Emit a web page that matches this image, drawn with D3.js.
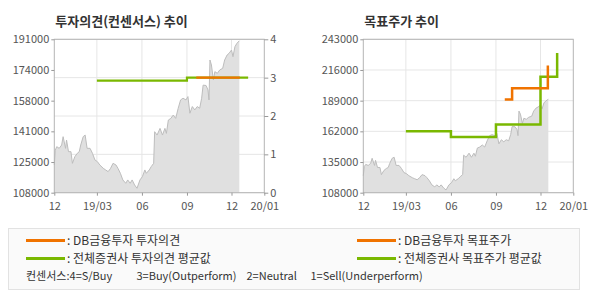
<!DOCTYPE html>
<html>
<head>
<meta charset="utf-8">
<script src="https://cdn.jsdelivr.net/npm/d3@7"></script>
<style>
  body { margin: 0; background: #fff; }
  svg text { font-family: "Noto Sans CJK KR", "Noto Sans", sans-serif; }
</style>
</head>
<body>
<div id="chart"></div>
<script>
const parse = d3.timeParse('%Y-%m-%d');

// x axis ticks
const xTickDates = ['2018-12-04', '2019-03-01', '2019-06-01', '2019-09-01', '2019-12-01', '2020-02-06'];
const xTickLabels = ['12', '19/03', '06', '09', '12', '20/01'];
const gridDates = ['2019-03-01', '2019-06-01', '2019-09-01', '2019-12-01'];

// closing price
const priceDates = [
	'2018-12-04', '2018-12-06', '2018-12-09', '2018-12-14', '2018-12-19', '2018-12-22', '2018-12-27', '2018-12-29',
	'2019-01-02', '2019-01-07', '2019-01-10', '2019-01-15', '2019-01-20', '2019-01-24', '2019-01-27',
	'2019-02-01', '2019-02-05', '2019-02-09', '2019-02-15', '2019-02-20', '2019-02-25',
	'2019-03-02', '2019-03-07', '2019-03-14', '2019-03-19', '2019-03-24', '2019-03-29',
	'2019-04-03', '2019-04-09', '2019-04-13', '2019-04-18', '2019-04-23', '2019-04-29',
	'2019-05-03', '2019-05-08', '2019-05-12', '2019-05-17', '2019-05-22', '2019-05-28',
	'2019-06-02', '2019-06-07', '2019-06-10', '2019-06-16', '2019-06-20', '2019-06-25', '2019-06-27',
	'2019-07-02', '2019-07-08', '2019-07-13', '2019-07-18', '2019-07-21', '2019-07-25', '2019-07-30',
	'2019-08-04', '2019-08-09', '2019-08-14', '2019-08-19', '2019-08-24', '2019-08-30',
	'2019-09-03', '2019-09-07', '2019-09-12', '2019-09-17', '2019-09-22', '2019-09-27',
	'2019-10-01', '2019-10-04', '2019-10-10', '2019-10-14', '2019-10-16', '2019-10-18', '2019-10-21', '2019-10-25', '2019-10-28',
	'2019-11-02', '2019-11-07', '2019-11-13', '2019-11-17', '2019-11-22', '2019-11-26',
	'2019-12-01', '2019-12-04', '2019-12-08', '2019-12-12', '2019-12-17'
];
const priceValues = [
	123000, 131000, 132900, 132000, 133800, 138300, 132000, 136500,
	130200, 130200, 123900, 127500, 129300, 130200, 133800,
	138300, 139200, 132000, 132000, 129300, 125700,
	124800, 123000, 121200, 120300, 119400, 121200,
	123900, 123000, 121200, 118500, 114900, 113100,
	114900, 113100, 114900, 112200, 110400, 114900,
	116700, 120300, 118500, 120300, 122100, 123900, 141000,
	139200, 142800, 139200, 142800, 140100, 147300, 148200,
	150000, 148200, 153600, 158200, 159100, 158200,
	160000, 151000, 154600, 152800, 154600, 153700,
	159100, 166200, 166000, 163600, 158200, 179800, 177100, 169000, 173500,
	172600, 174400, 175300, 179800, 182500, 183400,
	185200, 181600, 187000, 188800, 190200
];

// investment opinion (0-4)
const opinionDbDates = ['2019-09-20', '2019-12-18'];
const opinionDbValues = [3, 3];
const opinionAvgDates = ['2019-03-01', '2019-09-01', '2020-01-04'];
const opinionAvgValues = [2.92, 3, 3];

// target price
const targetDbDates = ['2019-09-19', '2019-10-04', '2019-12-16'];
const targetDbValues = [190000, 200000, 220000];
const targetAvgDates = ['2019-03-01', '2019-06-01', '2019-09-01', '2019-12-01', '2020-01-04'];
const targetAvgValues = [162000, 157000, 168000, 210000, 231000];

const opinionTicks = [0, 1, 2, 3, 4];
const targetTicks = [108000, 135000, 162000, 189000, 216000, 243000];

const ORANGE = '#f07300';
const GREEN = '#7ab800';

const zip = (ds, vs) => ds.map((d, i) => ({ date: parse(d), value: vs[i] }));
const price = zip(priceDates, priceValues);

const svg = d3.select('#chart').append('svg').attr('width', 590).attr('height', 300);

function drawChart(o) {
	const top = 39.3, bottom = 192.7;
	const x = d3.scaleTime()
		.domain([parse(xTickDates[0]), parse(xTickDates[xTickDates.length - 1])])
		.range([o.left, o.left + 210]);
	const yPrice = d3.scaleLinear().domain(o.priceDomain).range([bottom, top]);
	const g = svg.append('g');

	g.append('text').attr('x', o.left + 1).attr('y', 26)
		.attr('font-size', 13).attr('font-weight', 'bold').attr('fill', '#333')
		.text(o.title);

	// horizontal grid
	g.selectAll('.hg').data(o.gridValues).enter().append('line')
		.attr('x1', o.left).attr('x2', o.left + 210)
		.attr('y1', d => o.gridScale(d)).attr('y2', d => o.gridScale(d))
		.attr('stroke', '#e6e6e6');
	// vertical grid
	g.selectAll('.vg').data(gridDates.map(parse)).enter().append('line')
		.attr('x1', d => x(d)).attr('x2', d => x(d))
		.attr('y1', top).attr('y2', bottom)
		.attr('stroke', '#e6e6e6');

	// price area
	g.append('path').datum(price)
		.attr('fill', '#e0e0e0')
		.attr('d', d3.area().x(d => x(d.date)).y0(bottom).y1(d => yPrice(d.value)));
	g.append('path').datum(price)
		.attr('fill', 'none').attr('stroke', '#bdbdbd').attr('stroke-width', 1)
		.attr('d', d3.line().x(d => x(d.date)).y(d => yPrice(d.value)));

	// step lines
	o.lines.forEach(function(l) {
		g.append('path').datum(l.data)
			.attr('fill', 'none').attr('stroke', l.color).attr('stroke-width', o.lineWidth)
			.attr('d', d3.line().curve(d3.curveStepAfter).x(d => x(d.date)).y(d => o.lineScale(d.value)));
	});

	// frame
	g.append('rect').attr('x', o.left).attr('y', top).attr('width', 210).attr('height', bottom - top)
		.attr('fill', 'none').attr('stroke', '#b4b4b4');

	const styleAxis = function(sel) {
		sel.select('.domain').remove();
		sel.selectAll('line').attr('stroke', '#999');
		sel.selectAll('text').attr('fill', '#555').attr('font-size', 11);
	};

	g.append('g').attr('transform', `translate(0,${bottom})`)
		.call(d3.axisBottom(x).tickValues(xTickDates.map(parse))
			.tickFormat((d, i) => xTickLabels[i]).tickSize(3).tickPadding(7))
		.call(styleAxis);

	g.append('g').attr('transform', `translate(${o.left},0)`)
		.call(d3.axisLeft(yPrice).tickValues(o.leftTicks)
			.tickFormat(d => Math.round(d / 1000) * 1000).tickSize(3).tickPadding(2))
		.call(styleAxis);

	if (o.rightTicks) {
		g.append('g').attr('transform', `translate(${o.left + 210},0)`)
			.call(d3.axisRight(o.lineScale).tickValues(o.rightTicks)
				.tickFormat(d3.format('d')).tickSize(4).tickPadding(2))
			.call(styleAxis);
	}
}

const yOpinion = d3.scaleLinear().domain([0, 4]).range([192.7, 39.3]);
drawChart({
	left: 54.3,
	title: '투자의견(컨센서스) 추이',
	priceDomain: [108000, 191000],
	leftTicks: d3.range(6).map(i => 108000 + i * (191000 - 108000) / 5),
	rightTicks: opinionTicks,
	gridValues: opinionTicks,
	gridScale: yOpinion,
	lineScale: yOpinion,
	lineWidth: 2.2,
	lines: [
		{ data: zip(opinionAvgDates, opinionAvgValues), color: GREEN },
		{ data: zip(opinionDbDates, opinionDbValues), color: ORANGE }
	]
});

const yTarget = d3.scaleLinear().domain([108000, 243000]).range([192.7, 39.3]);
drawChart({
	left: 363.3,
	title: '목표주가 추이',
	priceDomain: [108000, 243000],
	leftTicks: targetTicks,
	rightTicks: null,
	gridValues: targetTicks,
	gridScale: yTarget,
	lineScale: yTarget,
	lineWidth: 2.5,
	lines: [
		{ data: zip(targetAvgDates, targetAvgValues), color: GREEN },
		{ data: zip(targetDbDates, targetDbValues), color: ORANGE }
	]
});

// legend
const legendItems = [
	{ label: ': DB금융투자 투자의견', color: ORANGE, col: 0, row: 0 },
	{ label: ': 전체증권사 투자의견 평균값', color: GREEN, col: 0, row: 1 },
	{ label: ': DB금융투자 목표주가', color: ORANGE, col: 1, row: 0 },
	{ label: ': 전체증권사 목표주가 평균값', color: GREEN, col: 1, row: 1 }
];
const consensusParts = [
	{ text: '컨센서스:4=S/Buy', x: 26 },
	{ text: '3=Buy(Outperform)', x: 136.5 },
	{ text: '2=Neutral', x: 246.5 },
	{ text: '1=Sell(Underperform)', x: 310.5 }
];

const legend = svg.append('g');
legend.append('rect').attr('x', 8.5).attr('y', 228.5).attr('width', 571).attr('height', 61)
	.attr('fill', '#fafafa').attr('stroke', '#e2e2e2');

const colX = [26, 357];
const rowY = [240.5, 258.5];
const li = legend.selectAll('.li').data(legendItems).enter().append('g');
li.append('line')
	.attr('x1', d => colX[d.col]).attr('x2', d => colX[d.col] + 39)
	.attr('y1', d => rowY[d.row]).attr('y2', d => rowY[d.row])
	.attr('stroke', d => d.color).attr('stroke-width', 3);
li.append('text')
	.attr('x', d => colX[d.col] + 41).attr('y', d => rowY[d.row] + 4.5)
	.attr('font-size', 12).attr('fill', '#333')
	.text(d => d.label);

legend.selectAll('.cp').data(consensusParts).enter().append('text')
	.attr('x', d => d.x).attr('y', 279.5)
	.attr('font-size', 11).attr('fill', '#333')
	.text(d => d.text);
</script>
</body>
</html>
